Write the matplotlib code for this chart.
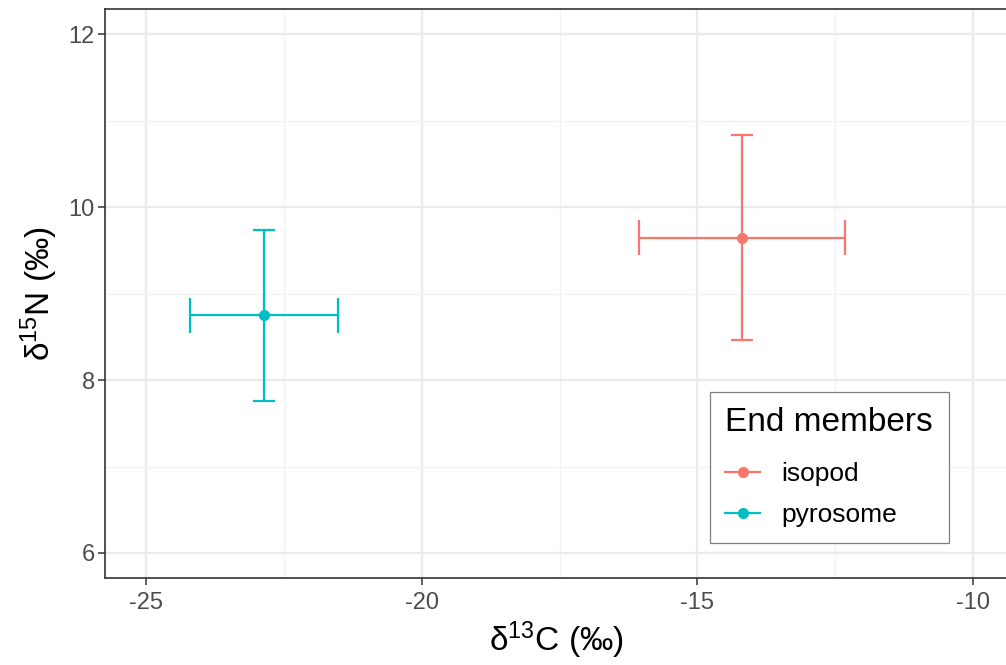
import matplotlib
matplotlib.use("Agg")
import matplotlib.pyplot as plt
from matplotlib.lines import Line2D
from matplotlib.ticker import MultipleLocator

plt.rcParams['font.family'] = ['Liberation Sans', 'DejaVu Sans']
plt.rcParams['mathtext.fontset'] = 'custom'
plt.rcParams['mathtext.rm'] = 'Liberation Sans'
plt.rcParams['axes.unicode_minus'] = False

# End-member isotope summaries (mean +/- sd)
groups = ["isopod", "pyrosome"]
d13c_mean = [-14.19, -22.86]
d13c_sd = [1.87, 1.34]
d15n_mean = [9.65, 8.75]
d15n_sd = [1.19, 0.99]
colors = ["#F8766D", "#00BFC4"]

x_ticks = [-25, -20, -15, -10]
y_ticks = [6, 8, 10, 12]

W, H = 1006, 665
fig = plt.figure(figsize=(W / 100, H / 100), dpi=100)
ax = fig.add_axes([105 / W, 1 - 578 / H, 1 - 105 / W + 0.002, (578 - 8.5) / H])

ax.set_xlim(-25.75, -9.36)
ax.set_ylim(5.71, 12.30)
ax.set_xticks(x_ticks)
ax.set_yticks(y_ticks)
ax.xaxis.set_minor_locator(MultipleLocator(2.5))
ax.yaxis.set_minor_locator(MultipleLocator(1))

ax.grid(which='major', color='#EBEBEB', linewidth=1.7, zorder=0)
ax.grid(which='minor', color='#F3F3F3', linewidth=1.0, zorder=0)
ax.set_axisbelow(True)
ax.tick_params(which='minor', length=0)
ax.tick_params(which='major', length=4.8, width=1.1, color='#333333',
               labelcolor='#4D4D4D', labelsize=17, pad=2.5)
ax.tick_params(axis='x', pad=5)
for side, sp in ax.spines.items():
    sp.set_color('#333333')
    sp.set_linewidth(1.2)
ax.spines['right'].set_visible(False)

cap_x = 0.2   # half-width of caps on vertical bars (x units)
cap_y = 0.2   # half-height of caps on horizontal bars (y units)
lw = 1.6
for g, xm, xs, ym, ys, c in zip(groups, d13c_mean, d13c_sd, d15n_mean, d15n_sd, colors):
    ax.errorbar(xm, ym, xerr=xs, yerr=ys, fmt='none', ecolor=c, elinewidth=lw,
                capsize=0, zorder=3)
    ax.hlines([ym - ys, ym + ys], xm - cap_x, xm + cap_x, colors=c, linewidth=lw, zorder=3)
    ax.vlines([xm - xs, xm + xs], ym - cap_y, ym + cap_y, colors=c, linewidth=lw, zorder=3)
    ax.plot(xm, ym, 'o', color=c, markersize=7, zorder=4)

ax.set_xlabel(r'$\mathregular{δ^{13}}$C (‰)', fontsize=24, color='black', labelpad=4)
ax.set_ylabel(r'$\mathregular{δ^{15}}$N (‰)', fontsize=24, color='black', labelpad=6)

handles = [Line2D([0], [0], color=c, linewidth=lw, marker='o', markersize=7) for c in colors]
leg = ax.legend(handles, groups, title='End members', loc='lower right',
                bbox_to_anchor=(949 / W, 1 - 543 / H), bbox_transform=fig.transFigure,
                fontsize=19, title_fontsize=24, frameon=True, fancybox=False,
                edgecolor='#7F7F7F', framealpha=1, handlelength=1.3,
                handletextpad=0.8, labelspacing=0.65, borderpad=0.6,
                borderaxespad=0)
leg.get_frame().set_linewidth(0.9)
leg._legend_box.align = 'left'
leg._legend_box.sep = 17

fig.savefig('out.png', dpi=100)
